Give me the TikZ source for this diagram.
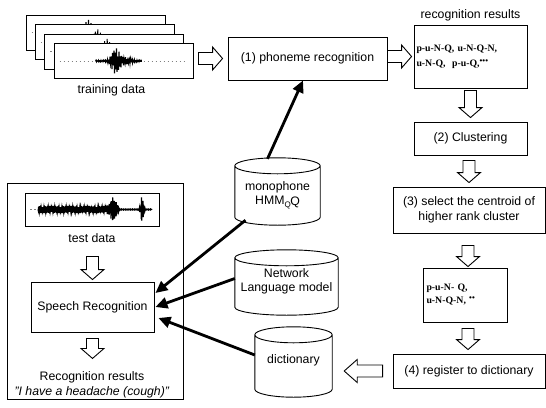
\documentclass[tikz,border=0pt]{standalone}
\usepackage{fontspec}
\setmainfont{Liberation Sans}
\newfontfamily\serifbf{Liberation Serif}
\usetikzlibrary{arrows.meta,calc}
\newcommand\hLen{10pt}
\newcommand\hWid{11.5pt}
\newcommand\sWid{6pt}
\newcommand\cry{8pt}
\newcommand\harR[2]{\draw[hol] let \p1=(#1), \p2=(#2) in
 (\x1,\y2+\sWid) -- (\x2-\hLen,\y2+\sWid) -- (\x2-\hLen,\y2+\hWid) -- (\x2,\y2) -- (\x2-\hLen,\y2-\hWid) -- (\x2-\hLen,\y2-\sWid) -- (\x1,\y2-\sWid) -- cycle;}
\newcommand\harL[2]{\draw[hol] let \p1=(#1), \p2=(#2) in
 (\x1,\y1+\sWid) -- (\x2+13pt,\y1+\sWid) -- (\x2+13pt,\y1+\hWid) -- (\x2,\y1) -- (\x2+13pt,\y1-\hWid) -- (\x2+13pt,\y1-\sWid) -- (\x1,\y1-\sWid) -- cycle;}
\newcommand\harD[2]{\draw[hol] let \p1=(#1), \p2=(#2) in
 (\x2-\sWid,\y1) -- (\x2-\sWid,\y2+\hLen) -- (\x2-\hWid,\y2+\hLen) -- (\x2,\y2) -- (\x2+\hWid,\y2+\hLen) -- (\x2+\sWid,\y2+\hLen) -- (\x2+\sWid,\y1) -- cycle;}
\newcommand\cylout[1]{\draw[line width=0.9pt, fill=white] let \p1=(#1.north west), \p2=(#1.south east), \n1={(\x2-\x1)/2} in
 (\x1,\y1-\cry) -- (\x1,\y2+\cry) arc[start angle=180, end angle=360, x radius={\n1*1pt}, y radius=\cry] -- (\x2,\y1-\cry) arc[start angle=0, end angle=180, x radius={\n1*1pt}, y radius=\cry] -- cycle
 (\x1,\y1-\cry) arc[start angle=180, end angle=360, x radius={\n1*1pt}, y radius=\cry];}
\newcommand\trwave[1]{\begin{scope}[shift={(#1.center)}]
 \draw[dotl] (-64,0) -- (64,0);
 \draw[line width=1.6pt] (-18,0) -- (18,0);
 \draw[wv] plot[domain=-20:26, samples=93] ({\x-8}, {(12*exp(-(\x*\x)/25)+3*exp(-((\x-10)*(\x-10))/50)+0.8)*sin(\x*280)});
\end{scope}}
\begin{document}
\begin{tikzpicture}[x=1pt,y=-1pt, font=\fontsize{12.3}{14.5}\selectfont,
 pbox/.style={draw, line width=0.9pt, fill=white, inner sep=0pt, align=center},
 hol/.style={draw, line width=0.9pt, fill=white, line join=miter},
 thk/.style={line width=2.8pt, -{Triangle[length=12pt,width=11pt]}},
 dotl/.style={gray, line width=0.5pt, dash pattern=on 1.5pt off 2.5pt},
 wv/.style={line width=1pt},
 lbl/.style={inner sep=1pt, align=center}]
\path[fill=white] (0,0) rectangle (546,407);
\useasboundingbox (0,0) rectangle (546,407);

% training data
\node[pbox, minimum width=139pt, minimum height=35pt] (tr1) at (95.5,32.5) {};
\trwave{tr1}
\node[pbox, minimum width=139pt, minimum height=35pt] (tr2) at (104.8,42) {};
\trwave{tr2}
\node[pbox, minimum width=139pt, minimum height=35pt] (tr3) at (114.2,51.5) {};
\trwave{tr3}
\node[pbox, minimum width=139pt, minimum height=35pt] (tr4) at (123.5,61) {};
\trwave{tr4}
\node[lbl] (trl) at (111.5,90) {training data};

% right column
\node[pbox, minimum width=159pt, minimum height=43pt] (ph) at (307.5,58.5) {(1) phoneme recognition};
\node[lbl] (resl) at (470.5,15) {recognition results};
\node[pbox, minimum width=113pt, minimum height=63pt, align=left, text width=108pt,
 font=\serifbf\bfseries\fontsize{9.8}{15}\selectfont] (res) at (470.5,56.5)
 {p-u-N-Q, u-N-Q-N,\\u-N-Q, \ p-u-Q,\raisebox{3pt}{\fontsize{8}{8}\selectfont •••}};
\node[pbox, minimum width=113pt, minimum height=33pt] (clu) at (470.5,138.5) {(2) Clustering};
\node[pbox, minimum width=152pt, minimum height=46pt] (sel) at (469,210) {(3) select the centroid of\\higher rank cluster};
\node[pbox, minimum width=84pt, minimum height=54pt, align=left, text width=77pt,
 font=\serifbf\bfseries\fontsize{9.8}{13}\selectfont] (pun) at (465,295)
 {p-u-N- Q,\\u-N-Q-N, \raisebox{3pt}{\fontsize{8}{8}\selectfont ••}};
\node[pbox, minimum width=152pt, minimum height=34pt] (reg) at (469,371) {(4) register to dictionary};

% databases
\node[minimum width=85pt, minimum height=67pt, inner sep=0pt] (mono) at (277.5,191.5) {};
\cylout{mono}
\node[lbl] (monot) at (277.5,195.5) {monophone\\HMM\raisebox{-3pt}{\fontsize{8}{8}\selectfont Q}\kern-0.5pt\raisebox{-1pt}{Q}};
\node[minimum width=103pt, minimum height=65pt, inner sep=0pt] (net) at (286.5,282.5) {};
\cylout{net}
\node[lbl] (nett) at (286.5,281.5) {Network\\Language model};
\node[minimum width=77pt, minimum height=70pt, inner sep=0pt] (dict) at (293.5,362) {};
\cylout{dict}
\node[lbl] (dictt) at (293.5,360) {dictionary};

% test box
\node[pbox, minimum width=176pt, minimum height=216pt] (tbox) at (95,291) {};
\node[pbox, minimum width=134pt, minimum height=33pt] (tdw) at (92,209.5) {};
\begin{scope}[shift={(tdw.center)}]
 \draw[dotl] (-62,0) -- (62,0);
 \draw[line width=2pt] (-54,0) -- (26,0);
 \draw[line width=1.1pt] plot[domain=-54:60, samples=381] (\x, {(ifthenelse(\x<27, 2.4+1.8*abs(sin(\x*40)), 0.3) + 8*exp(max(-15,-((\x-21)*(\x-21))/12)) + 13*exp(max(-15,-((\x-50)*(\x-50))/3)))*sin(mod(\x*50,36)*10)});
\end{scope}
\node[lbl] (tdl) at (92,238) {test data};
\node[pbox, minimum width=123pt, minimum height=50pt] (sr) at (92.5,307) {Speech Recognition};
\node[lbl, font=\fontsize{12.3}{15}\selectfont] (rr) at (92,384.5) {Recognition results\\\textit{"I have a headache (cough)"}};

% hollow arrows
\harR{[xshift=5pt]tr4.east}{[xshift=-5pt]ph.west}
\harR{ph.east}{[xshift=-2pt]res.west}
\harD{[yshift=-2pt]res.south}{[yshift=4pt]clu.north}
\harD{[yshift=-5pt]clu.south}{[yshift=4pt]sel.north}
\harD{[yshift=-12pt]sel.south}{[xshift=3pt,yshift=1pt]pun.north}
\harD{[yshift=-6pt]pun.south}{[xshift=-1pt,yshift=4pt]reg.north}
\harL{[xshift=-10pt]reg.west}{[xshift=12pt]dict.east}
\harD{[yshift=-30pt]tdw.south}{[yshift=2pt]sr.north}
\harD{[yshift=-6pt]sr.south}{[yshift=-26pt]sr.south}

% thick arrows
\draw[thk] ([xshift=-10pt,yshift=-1pt]mono.north) -- ([xshift=-4.5pt]ph.south);
\draw[thk] ([xshift=-32pt,yshift=5pt]mono.south) -- ([xshift=1pt,yshift=14pt]sr.east);
\draw[thk] ([yshift=4pt]net.west) -- ([xshift=1pt]sr.east);
\draw[thk] ([yshift=7pt]dict.west) -- ([xshift=4pt,yshift=-11pt]sr.east);
\end{tikzpicture}
\end{document}
